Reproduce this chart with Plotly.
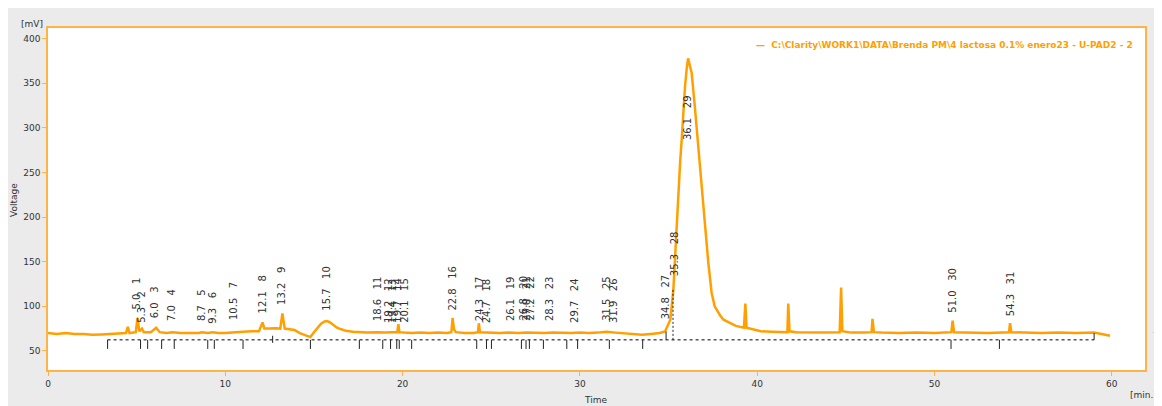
import plotly.graph_objects as go

# ---------------- data ----------------
time_min = [0.0, 0.5, 1.0, 1.5, 2.0, 2.5, 3.0, 3.5, 4.0, 4.4, 4.5, 4.6, 4.95, 5.05, 5.15, 5.3, 5.4,
            5.8, 6.1, 6.3, 6.7, 7.0, 7.5, 8.0, 8.5, 8.7, 9.0, 9.3, 9.6, 10.0, 10.5, 11.0, 11.5,
            11.9, 12.1, 12.2, 12.5, 12.8, 13.1, 13.22, 13.35, 13.6, 13.9, 14.2, 14.5, 14.8, 15.0,
            15.2, 15.4, 15.6, 15.75, 15.9, 16.1, 16.3, 16.5, 16.8, 17.2, 17.6, 18.0, 18.6, 19.0,
            19.4, 19.7, 19.76, 19.82, 20.1, 20.5, 21.0, 21.5, 22.0, 22.5, 22.75, 22.82, 22.9, 23.0,
            23.5, 24.0, 24.25, 24.3, 24.36, 24.7, 25.0, 25.5, 26.0, 26.5, 27.0, 27.5, 28.0, 28.5,
            29.0, 29.5, 30.0, 30.5, 31.0, 31.5, 32.0, 32.5, 33.0, 33.5, 34.0, 34.5, 34.8, 35.1,
            35.27, 35.36, 35.46, 35.55, 35.65, 35.74, 35.83, 35.93, 36.02, 36.1, 36.2, 36.3, 36.48,
            36.67, 36.86, 37.05, 37.24, 37.43, 37.6, 37.9, 38.1, 38.46, 38.8, 39.25, 39.33, 39.4,
            39.8, 40.2, 40.8, 41.3, 41.7, 41.75, 41.82, 42.2, 43.0, 43.8, 44.65, 44.73, 44.8, 45.3,
            46.0, 46.45, 46.5, 46.58, 47.0, 48.0, 49.0, 50.0, 50.95, 51.02, 51.1, 52.0, 53.0, 54.2,
            54.26, 54.33, 55.0, 56.0, 57.0, 58.0, 59.0, 59.5, 59.9]
voltage_mv = [70, 69, 70, 69, 69, 68, 68.5, 69, 70, 70, 77, 70, 71, 87, 72, 75, 71,
              71, 76, 71, 70, 71, 70, 70, 70, 71, 70, 71, 70, 70, 71, 71.5, 72,
              72, 82, 75, 75, 75.5, 75, 92, 75, 74, 73.5, 70, 68, 65.5, 71,
              76, 80.5, 83, 83.5, 82, 79, 76, 74.5, 72.5, 71.5, 71, 70.5, 71, 70.5,
              71, 71, 80, 71, 70.5, 70, 70.5, 70, 70.5, 70, 71, 87, 74, 71,
              70, 70, 71, 81, 71, 70.5, 70, 70, 70.5, 70, 70.5, 70, 70, 70.5,
              70, 70, 70.5, 70, 70.5, 71.5, 70.5, 69.5, 69, 68, 69, 70, 71.7, 85,
              118.5, 156, 194, 231, 261, 287, 317, 347, 366, 378, 370, 362, 324,
              280, 231, 186, 149, 115, 100, 90, 85, 81.5, 78, 76, 103, 76,
              74, 72, 71.5, 71, 71, 103, 72, 71, 70.5, 70.5, 71, 121, 72, 70.5,
              70.5, 71, 86, 71, 70.5, 70, 70.5, 70, 71, 84, 71, 70.5, 70, 71,
              81, 71, 70.5, 70, 70.5, 70, 70.5, 69, 67]

peak_numbers = list(range(1, 32))
peak_times = [5.0, 5.3, 6.0, 7.0, 8.7, 9.3, 10.5, 12.1, 13.2, 15.7, 18.6, 19.2, 19.4, 19.7, 20.1,
              22.8, 24.3, 24.7, 26.1, 26.8, 27.0, 27.2, 28.3, 29.7, 31.5, 31.9, 34.8, 35.3, 36.1,
              51.0, 54.3]
label_level_mv = [93.8, 79.2, 84.8, 81.5, 81.5, 78.1, 82.6, 89.3, 99.4, 92.7, 81.5, 79.2, 79.2,
                  79.2, 79.2, 92.7, 81.5, 79.2, 81.5, 81.5, 81.5, 81.5, 81.5, 79.2, 81.5, 79.2,
                  82.6, 132.0, 283.7, 90.4, 87.0]

boundary_times = [3.36, 5.22, 5.62, 6.41, 7.12, 9.01, 9.38, 11.0, 14.8, 17.56, 18.88, 19.32,
                  19.67, 19.81, 20.51, 24.18, 24.73, 25.01, 26.7, 26.96, 27.15, 27.94, 29.26,
                  29.87, 31.66, 33.54, 50.93, 53.66]
baseline_start, baseline_end, baseline_mv = 3.36, 59.0, 62.4
split_time, split_top_mv = 35.25, 118.5
start27_time, start27_top_mv = 34.86, 71.7

x_ticks = [0, 10, 20, 30, 40, 50, 60]
y_ticks = [50, 100, 150, 200, 250, 300, 350, 400]
legend_name = r"C:\Clarity\WORK1\DATA\Brenda PM\4 lactosa 0.1% enero23 - U-PAD2 - 2"

# ---------------- figure ----------------
ORANGE = "#ffa000"
FRAME = "#ffb347"
TXT = "#333333"
FONT = "DejaVu Sans"

fig = go.Figure()

fig.add_trace(go.Scatter(x=time_min, y=voltage_mv, mode="lines",
                         line=dict(color=ORANGE, width=2.5), hoverinfo="skip",
                         showlegend=False))

# baseline (dashed)
fig.add_trace(go.Scatter(x=[baseline_start, baseline_end], y=[baseline_mv, baseline_mv],
                         mode="lines", line=dict(color="black", width=1, dash="3px,3px"),
                         showlegend=False, hoverinfo="skip"))

# peak boundary marks
bx, by = [], []
for t in boundary_times:
    bx += [t, t, None]
    by += [baseline_mv, baseline_mv - 10.2, None]
bx += [12.67, 12.67, None, baseline_end, baseline_end, None, start27_time, start27_time, None]
by += [59.0, 67.0, None, baseline_mv, 70.0, None, baseline_mv, start27_top_mv, None]
fig.add_trace(go.Scatter(x=bx, y=by, mode="lines", line=dict(color="#222222", width=1),
                         showlegend=False, hoverinfo="skip"))
fig.add_trace(go.Scatter(x=[split_time, split_time], y=[baseline_mv, split_top_mv],
                         mode="lines", line=dict(color="#222222", width=1, dash="2px,2px"),
                         showlegend=False, hoverinfo="skip"))

# peak labels
for n, t, lv in zip(peak_numbers, peak_times, label_level_mv):
    fig.add_annotation(x=t, y=lv, xref="x", yref="y", showarrow=False,
                       text=f"{t:.1f}\u00a0\u00a0\u00a0{n}", textangle=-90,
                       xanchor="center", yanchor="bottom",
                       font=dict(family=FONT, size=10, color=TXT))

# axis captions
fig.add_annotation(xref="paper", yref="paper", x=0.4995, y=-0.0877, text="Time",
                   showarrow=False, xanchor="center", yanchor="middle",
                   font=dict(family=FONT, size=9, color=TXT))
fig.add_annotation(xref="paper", yref="paper", x=-0.031, y=0.497, text="Voltage",
                   showarrow=False, textangle=-90, xanchor="center", yanchor="middle",
                   font=dict(family=FONT, size=9, color=TXT))
fig.add_annotation(xref="paper", yref="paper", x=-0.0146, y=1.0117, text="[mV]",
                   showarrow=False, xanchor="center", yanchor="middle",
                   font=dict(family=FONT, size=9, color=TXT))
fig.add_annotation(xref="paper", yref="paper", x=0.999, y=-0.073, text="[min.]",
                   showarrow=False, xanchor="center", yanchor="middle",
                   font=dict(family=FONT, size=9, color=TXT))
fig.add_annotation(xref="paper", yref="paper", x=1.009, y=0.115, text=".",
                   showarrow=False, xanchor="center", yanchor="middle",
                   font=dict(family=FONT, size=8, color=TXT))

# legend-like caption
fig.add_annotation(xref="paper", yref="paper", x=0.9909, y=0.9503,
                   text="\u2014\u00a0\u00a0" + legend_name, showarrow=False,
                   xanchor="right", yanchor="middle",
                   font=dict(family=FONT, size=9, color=ORANGE, weight="bold"))

axis_common = dict(showgrid=False, zeroline=False, showline=True, linecolor=FRAME,
                   linewidth=1.5, mirror=True, ticks="outside", ticklen=4, tickcolor=FRAME,
                   tickfont=dict(family=FONT, size=9, color=TXT))
fig.update_xaxes(range=[0, 61.87], tickvals=x_ticks, **axis_common)
fig.update_yaxes(range=[28.6, 412], tickvals=y_ticks, **axis_common)

fig.update_layout(width=1162, height=406, autosize=False,
                  margin=dict(l=40, r=25, t=20, b=44),
                  paper_bgcolor="#ebebeb", plot_bgcolor="white",
                  showlegend=False)

fig.write_html("out.html")
